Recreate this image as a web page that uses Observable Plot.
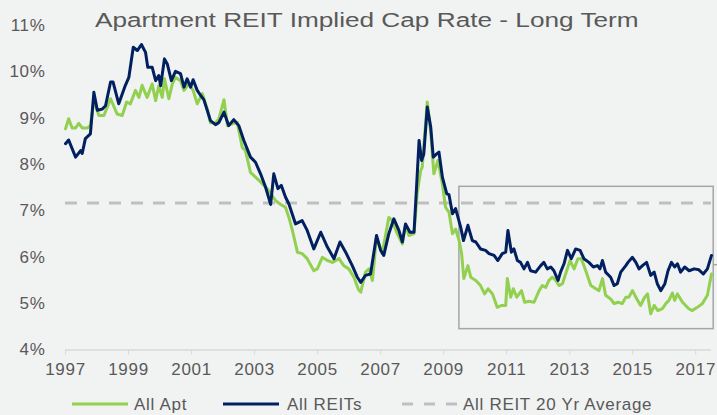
<!DOCTYPE html>
<html><head><meta charset="utf-8">
<script src="https://cdn.jsdelivr.net/npm/d3@7"></script>
<script src="https://cdn.jsdelivr.net/npm/@observablehq/plot@0.6"></script>
<style>
html,body{margin:0;padding:0;background:#f1f2f2;}
#wrap{position:relative;width:717px;height:415px;overflow:hidden;font-family:"Liberation Sans",Arial,sans-serif;color:#595959;}
#chart{position:absolute;left:0;top:0;}
#title{position:absolute;left:95px;top:10px;font-size:20px;line-height:1;white-space:nowrap;transform:scaleX(1.31);transform-origin:0 0;}
.lg{position:absolute;white-space:nowrap;font-size:17px;line-height:17px;letter-spacing:0.7px;}
.sw{position:absolute;}
</style>
</head><body>
<div id="wrap">
  <div id="chart"></div>
  <div id="title"></div>
  <div id="legend"></div>
</div>
<script>
const titleText = "Apartment REIT Implied Cap Rate - Long Term";

// All Apt (green)
const aptYears = [1997.00,1997.10,1997.21,1997.32,1997.42,1997.53,1997.69,1997.79,1997.90,1998.06,1998.22,1998.43,1998.64,1998.80,1998.94,1999.06,1999.22,1999.33,1999.43,1999.59,1999.75,1999.86,1999.96,2000.07,2000.14,2000.28,2000.39,2000.49,2000.65,2000.76,2000.91,2001.05,2001.18,2001.34,2001.50,2001.60,2001.76,2001.87,2002.03,2002.14,2002.29,2002.45,2002.61,2002.71,2002.87,2003.09,2003.30,2003.45,2003.67,2003.83,2003.98,2004.09,2004.20,2004.36,2004.51,2004.67,2004.88,2004.99,2005.15,2005.31,2005.47,2005.68,2005.83,2005.99,2006.15,2006.30,2006.37,2006.52,2006.63,2006.74,2006.87,2007.05,2007.26,2007.37,2007.53,2007.69,2007.79,2007.90,2008.06,2008.16,2008.27,2008.32,2008.48,2008.59,2008.69,2008.82,2008.96,2009.06,2009.17,2009.28,2009.38,2009.49,2009.57,2009.64,2009.77,2009.86,2010.02,2010.17,2010.30,2010.41,2010.55,2010.70,2010.83,2010.97,2011.02,2011.13,2011.21,2011.32,2011.47,2011.57,2011.71,2011.87,2012.03,2012.13,2012.24,2012.34,2012.45,2012.56,2012.66,2012.77,2012.87,2013.01,2013.14,2013.26,2013.37,2013.51,2013.67,2013.83,2013.93,2014.04,2014.14,2014.30,2014.41,2014.53,2014.67,2014.78,2014.88,2014.99,2015.13,2015.25,2015.38,2015.47,2015.57,2015.68,2015.80,2015.94,2016.05,2016.15,2016.26,2016.33,2016.42,2016.58,2016.78,2016.89,2017.05,2017.21,2017.37,2017.50];
const aptRates = [8.77,8.99,8.79,8.79,8.89,8.79,8.79,8.84,9.38,9.06,9.06,9.42,9.09,9.06,9.35,9.31,9.60,9.45,9.71,9.45,9.74,9.38,9.70,9.45,9.85,9.42,9.74,9.88,9.81,9.60,9.74,9.60,9.31,9.53,9.20,8.90,8.90,8.99,9.40,8.84,8.88,8.91,8.37,8.30,7.83,7.69,7.55,7.44,7.22,7.14,7.08,6.86,6.58,6.11,6.08,5.97,5.71,5.75,6.00,5.93,5.89,5.97,5.82,5.75,5.57,5.30,5.25,5.68,5.75,5.50,6.44,6.08,6.86,6.79,6.51,6.29,6.69,6.47,6.51,7.37,7.87,7.94,9.35,8.70,7.80,8.09,7.58,7.08,6.97,6.51,6.61,6.36,6.08,5.54,5.82,5.57,5.50,5.39,5.21,5.32,5.21,4.92,4.96,4.96,5.54,5.14,5.32,5.14,5.28,5.03,5.05,5.03,5.28,5.39,5.35,5.50,5.57,5.50,5.39,5.43,5.64,5.93,5.75,5.97,5.97,5.71,5.39,5.32,5.28,5.54,5.18,5.10,5.00,5.03,5.00,5.14,5.14,5.28,5.10,4.96,5.14,5.21,4.78,4.96,4.85,4.89,5.00,5.07,5.23,5.07,5.21,5.03,4.89,4.85,4.92,5.00,5.18,5.64];

// All REITs (navy)
const reitYears = [1997.00,1997.10,1997.32,1997.48,1997.53,1997.63,1997.79,1997.90,1998.01,1998.17,1998.27,1998.43,1998.51,1998.69,1998.90,1999.01,1999.15,1999.28,1999.41,1999.54,1999.61,1999.75,1999.86,1999.96,2000.02,2000.14,2000.23,2000.36,2000.49,2000.65,2000.76,2000.86,2000.97,2001.05,2001.18,2001.29,2001.39,2001.60,2001.76,2001.87,2002.03,2002.18,2002.34,2002.50,2002.66,2002.87,2003.03,2003.19,2003.35,2003.51,2003.61,2003.74,2003.85,2003.98,2004.09,2004.30,2004.51,2004.67,2004.88,2005.10,2005.31,2005.52,2005.71,2005.89,2006.10,2006.26,2006.37,2006.52,2006.68,2006.87,2007.00,2007.10,2007.26,2007.42,2007.58,2007.69,2007.79,2007.93,2008.06,2008.14,2008.22,2008.30,2008.37,2008.48,2008.59,2008.67,2008.78,2008.85,2008.96,2009.10,2009.17,2009.28,2009.38,2009.54,2009.63,2009.77,2009.91,2010.02,2010.17,2010.33,2010.44,2010.60,2010.72,2010.86,2010.97,2011.04,2011.15,2011.23,2011.34,2011.44,2011.55,2011.66,2011.76,2011.92,2012.08,2012.18,2012.29,2012.40,2012.50,2012.63,2012.71,2012.82,2012.93,2013.05,2013.19,2013.33,2013.45,2013.61,2013.75,2013.88,2013.96,2014.04,2014.14,2014.30,2014.41,2014.51,2014.62,2014.78,2014.85,2014.99,2015.10,2015.20,2015.31,2015.44,2015.57,2015.68,2015.78,2015.89,2016.02,2016.12,2016.23,2016.33,2016.42,2016.52,2016.65,2016.79,2016.95,2017.10,2017.24,2017.37,2017.50];
const reitRates = [8.45,8.53,8.16,8.30,8.24,8.56,8.66,9.56,9.17,9.20,9.27,9.78,9.78,9.31,9.71,9.88,10.53,10.46,10.59,10.42,10.10,10.10,9.81,9.92,9.70,10.28,10.17,9.81,10.01,9.96,9.67,9.85,9.67,9.83,9.60,9.49,9.40,8.95,8.86,8.91,9.13,8.84,8.97,8.84,8.52,8.16,8.05,7.80,7.51,7.14,7.80,7.48,7.55,7.30,7.15,6.72,6.79,6.58,6.18,6.54,6.22,5.97,6.33,6.11,5.82,5.57,5.46,5.61,5.64,6.47,6.15,6.04,6.51,6.83,6.58,6.33,6.72,6.54,6.54,7.51,8.52,8.09,8.23,9.24,8.81,8.16,8.23,8.27,7.73,7.37,7.35,6.94,7.05,6.65,6.36,6.69,6.36,6.33,6.18,6.15,6.08,6.04,5.93,6.08,6.11,6.58,6.11,6.18,5.93,5.89,5.75,5.89,5.71,5.68,5.82,5.89,5.75,5.79,5.71,5.50,5.68,5.86,6.15,5.97,6.18,6.15,5.97,5.89,5.79,5.82,5.75,5.93,5.68,5.57,5.39,5.43,5.68,5.82,5.89,6.00,5.89,5.75,5.82,5.89,5.61,5.68,5.43,5.28,5.43,5.71,5.89,5.79,5.86,5.68,5.79,5.71,5.75,5.73,5.64,5.75,6.04];

const avgRate = [7.17];
const boxYears = [2009.5, 2017.57];
const boxRates = [4.45, 7.52];
const markerRate = [5.84];
const markerYears = [2017.57, 2017.72];

const xTicks = [1997,1999,2001,2003,2005,2007,2009,2011,2013,2015,2017];
const yTicks = [4,5,6,7,8,9,10,11];

const legendLabels = ["All Apt", "All REITs", "All REIT 20 Yr Average"];
const colors = {apt:"#92d050", reit:"#002060", avg:"#bfbfbf"};

const apt = aptYears.map((t,i)=>({t, v:aptRates[i]}));
const reit = reitYears.map((t,i)=>({t, v:reitRates[i]}));
const box = [{x1:boxYears[0], x2:boxYears[1], y1:boxRates[0], y2:boxRates[1]}];

const chart = Plot.plot({
  width:717, height:385,
  marginLeft:65, marginRight:6, marginTop:25, marginBottom:35.5,
  style:{background:"transparent", fontFamily:"'Liberation Sans', Arial, sans-serif", fontSize:"17px", color:"#595959", overflow:"visible"},
  x:{domain:[1997,2017.5]},
  y:{domain:[4,11]},
  marks:[
    Plot.ruleY(avgRate, {stroke:colors.avg, strokeWidth:3, strokeDasharray:"12,10"}),
    Plot.rect(box, {x1:"x1", x2:"x2", y1:"y1", y2:"y2", fill:"none", stroke:"#a6a6a6", strokeWidth:1.5}),
    Plot.ruleY(markerRate, {x1:markerYears[0], x2:markerYears[1], stroke:"#a6a6a6", strokeWidth:1.5}),
    Plot.line(apt, {x:"t", y:"v", stroke:colors.apt, strokeWidth:3}),
    Plot.line(reit, {x:"t", y:"v", stroke:colors.reit, strokeWidth:3}),
    Plot.ruleY([4], {stroke:"#d9d9d9", strokeWidth:1.5}),
    Plot.axisX({ticks:xTicks, tickFormat:d=>String(d), tickSize:5, tickPadding:8, stroke:"#d9d9d9", fill:"#595959", label:null}),
    Plot.axisY({ticks:yTicks, tickFormat:d=>d+"%", tickSize:0, tickPadding:20, fill:"#595959", label:null})
  ]
});
d3.select(chart).selectAll("text").style("letter-spacing","0.7px");
document.getElementById("chart").appendChild(chart);

document.getElementById("title").textContent = titleText;

const legend = document.getElementById("legend");
const legendItems = [
  {label:legendLabels[0], color:colors.apt, dash:null, sx:72, tx:134},
  {label:legendLabels[1], color:colors.reit, dash:null, sx:223, tx:287},
  {label:legendLabels[2], color:colors.avg, dash:"11,11", sx:402, tx:463}
];
legendItems.forEach(it=>{
  const s = d3.create("svg").attr("class","sw").attr("width",56).attr("height",8)
    .style("left", it.sx+"px").style("top","400px");
  s.append("line").attr("x1",0).attr("x2",56).attr("y1",4).attr("y2",4)
    .attr("stroke", it.color).attr("stroke-width",3).attr("stroke-dasharray", it.dash);
  legend.appendChild(s.node());
  const t = document.createElement("div");
  t.className = "lg"; t.textContent = it.label;
  t.style.left = it.tx+"px"; t.style.top = "395.5px";
  legend.appendChild(t);
});
</script>
</body></html>
